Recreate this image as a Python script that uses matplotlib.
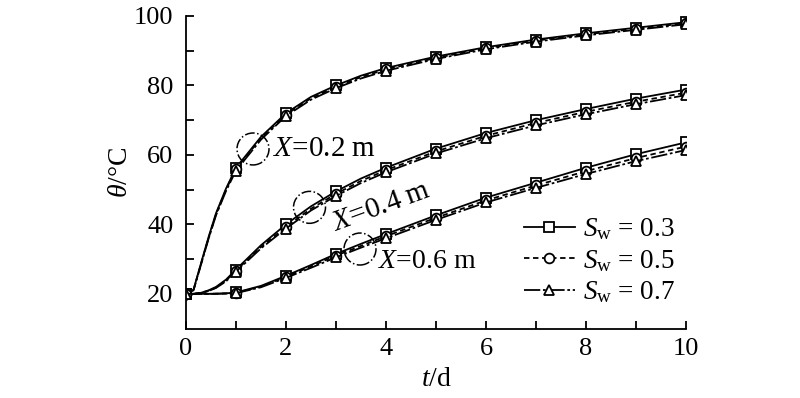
import numpy as np
import matplotlib
matplotlib.use('Agg')
import matplotlib.pyplot as plt
from matplotlib.patches import Ellipse

plt.rcParams['font.family'] = ['Liberation Serif', 'DejaVu Serif']
plt.rcParams['mathtext.fontset'] = 'custom'
plt.rcParams['mathtext.rm'] = 'Liberation Serif'
plt.rcParams['mathtext.it'] = 'Liberation Serif:italic'

# time grid (d); markers only at whole days
t = [0, 0.15, 0.3, 0.45, 0.6, 0.8, 1, 1.5, 2, 2.5, 3, 3.5, 4, 5, 6, 7, 8, 9, 10]
mark_idx = [i for i, v in enumerate(t) if float(v).is_integer()]

# temperature (deg C), one list per Sw
x02_sw03 = [20, 21.2, 28.8, 36.3, 43.2, 50.3, 56.3, 65.2, 72.0, 76.7, 80.0, 82.8, 85.0, 88.3, 91.0, 93.2, 95.0, 96.6, 98.2]
x02_sw05 = [20, 21.1, 28.6, 36.0, 42.9, 50.0, 56.0, 64.8, 71.6, 76.3, 79.6, 82.4, 84.6, 87.9, 90.7, 92.9, 94.7, 96.3, 97.9]
x02_sw07 = [20, 21.0, 28.4, 35.8, 42.6, 49.6, 55.5, 64.4, 71.2, 75.9, 79.2, 82.0, 84.2, 87.6, 90.4, 92.6, 94.4, 96.0, 97.6]

x04_sw03 = [20, 20.0, 20.3, 21.0, 22.0, 24.1, 27.0, 34.0, 40.0, 45.2, 49.5, 53.2, 56.3, 61.8, 66.3, 70.0, 73.2, 76.2, 78.8]
x04_sw05 = [20, 20.0, 20.3, 20.9, 21.8, 23.8, 26.7, 33.5, 39.3, 44.5, 48.8, 52.5, 55.6, 61.0, 65.5, 69.2, 72.4, 75.3, 77.9]
x04_sw07 = [20, 20.0, 20.2, 20.8, 21.7, 23.6, 26.4, 33.1, 38.8, 44.0, 48.2, 51.9, 55.0, 60.4, 64.8, 68.5, 71.7, 74.6, 77.2]

x06_sw03 = [20, 20.0, 20.0, 20.0, 20.05, 20.15, 20.4, 22.3, 25.2, 28.3, 31.5, 34.4, 37.2, 42.6, 47.7, 52.0, 56.3, 60.2, 63.6]
x06_sw05 = [20, 20.0, 20.0, 20.0, 20.05, 20.1, 20.3, 22.1, 24.9, 27.9, 31.0, 33.8, 36.6, 41.9, 46.9, 51.2, 55.3, 59.1, 62.4]
x06_sw07 = [20, 20.0, 20.0, 20.0, 20.0, 20.1, 20.2, 21.9, 24.6, 27.5, 30.5, 33.3, 36.0, 41.3, 46.3, 50.5, 54.5, 58.2, 61.4]

sw_labels = [r'$S_{\mathrm{w}}$ = 0.3', r'$S_{\mathrm{w}}$ = 0.5', r'$S_{\mathrm{w}}$ = 0.7']
styles = [dict(ls='-', marker='s'),
          dict(ls=(0, (3, 2)), marker='o'),
          dict(ls=(0, (9, 1.5, 1.5, 1.5)), marker='^')]

groups = [[x02_sw03, x02_sw05, x02_sw07],
          [x04_sw03, x04_sw05, x04_sw07],
          [x06_sw03, x06_sw05, x06_sw07]]

fig = plt.figure(figsize=(8, 3.98), dpi=100)
ax = fig.add_axes([0.2325, 0.1744, 0.625, 0.7856])

handles = []
for g in groups:
    for k, y in enumerate(g):
        h, = ax.plot(t, y, color='black', lw=1.3, markevery=mark_idx,
                     markersize=7, markerfacecolor='white', markeredgecolor='black',
                     markeredgewidth=1.3, **styles[k])
        if len(handles) < 3:
            handles.append(h)

# dash-dot circles and position labels
circles = [(1.34, 61.7), (2.47, 44.9), (3.48, 32.9)]
for cx, cy in circles:
    ax.add_patch(Ellipse((cx, cy), 0.64, 9.2, fill=False, ec='black', lw=1.1, ls='-.'))

ax.text(1.74, 61.7, r'$X$=0.2 m', fontsize=21, ha='left', va='center')
ax.text(3.9, 44.9, r'$X$=0.4 m', fontsize=21, ha='center', va='center', rotation=20,
        rotation_mode='anchor')
ax.text(3.85, 29.3, r'$X$=0.6 m', fontsize=20, ha='left', va='center')

leg = ax.legend(handles, sw_labels, loc='lower right', bbox_to_anchor=(0.978, 0.075),
                frameon=False, fontsize=19.5, handlelength=1.9, handletextpad=0.3,
                labelspacing=0.2, borderpad=0, borderaxespad=0)

ax.set_xlim(0, 10)
ax.set_ylim(10, 100)
ax.set_xticks([0, 2, 4, 6, 8, 10])
ax.set_xticks([1, 3, 5, 7, 9], minor=True)
ax.set_yticks([20, 40, 60, 80, 100])
ax.set_yticks([30, 50, 70, 90], minor=True)
ax.tick_params(which='both', direction='in', length=6, width=1.3, labelsize=19,
               color='black')
ax.tick_params(axis='y', pad=9)
ax.tick_params(axis='x', pad=7)

for s in ['top', 'right']:
    ax.spines[s].set_visible(False)
for s in ['left', 'bottom']:
    ax.spines[s].set_linewidth(1.3)

ax.set_xlabel(r'$t$/d', fontsize=20, labelpad=5)
ax.set_ylabel(r'$\theta$/°C', fontsize=20, labelpad=1)

fig.savefig('out.png', dpi=100)
